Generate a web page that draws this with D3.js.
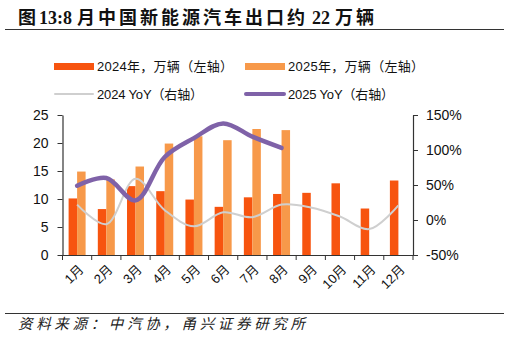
<!DOCTYPE html>
<html>
<head>
<meta charset="utf-8">
<script src="https://cdn.jsdelivr.net/npm/d3@7"></script>
<style>
  html, body { margin: 0; padding: 0; background: #fff; }
  svg { display: block; }
  text { font-family: "Liberation Sans", Arial, "Noto Sans CJK SC", sans-serif; }
</style>
</head>
<body>
<svg id="chart" width="510" height="341"></svg>
<script>
// Monthly NEV exports (10k units) and year-on-year growth (%)
const months = ["1月","2月","3月","4月","5月","6月","7月","8月","9月","10月","11月","12月"];
const units2024 = [10.1, 8.2, 12.3, 11.4, 9.9, 8.6, 10.3, 10.9, 11.1, 12.8, 8.3, 13.3];
const units2025 = [14.9, 13.5, 15.8, 19.9, 21.2, 20.5, 22.5, 22.3];
const yoy2024 = [22, -6, 59, 14, -9, 11, 4, 22, 18, 5, -13, 21];
const yoy2025 = [49, 60, 28, 90, 117, 138, 119, 103];
const leftTicks = [0, 5, 10, 15, 20, 25];
const rightTicks = [-50, 0, 50, 100, 150];

const c2024 = "#f7540f";
const c2025 = "#f7994a";
const cYoy24 = "#cfcfcf";
const cYoy25 = "#7f62a8";

const svg = d3.select("#chart");
const margin = { left: 62.5, right: 97, top: 115, bottom: 86 };
const W = 510, H = 341;
const plotL = margin.left, plotR = W - margin.right, plotT = margin.top, plotB = H - margin.bottom;

const x = d3.scaleBand().domain(months).range([plotL, plotR]).paddingInner(0).paddingOuter(0);
const yL = d3.scaleLinear().domain([0, 25]).range([plotB, plotT]);
const yR = d3.scaleLinear().domain([-50, 150]).range([plotB, plotT]);
const barW = 8.5;

// Title: CJK runs are letter-spaced, numerals set tight
const title = svg.append("text")
  .attr("x", 18).attr("y", 24)
  .style("font-family", "\"Liberation Serif\", \"Noto Sans CJK SC\", serif")
  .style("font-weight", "bold").style("font-size", "18px").attr("fill", "#111");
[
  ["图", 3, 0], ["13:8", 0, 0], ["月中国新能源汽车出口约", 3, 5], ["22", 0, 4], ["万辆", 3, 5]
].forEach(([t, ls, dx]) => title.append("tspan")
  .attr("dx", dx).style("letter-spacing", ls + "px").text(t));

svg.append("line").attr("x1", 5).attr("x2", 504).attr("y1", 29.5).attr("y2", 29.5)
  .attr("stroke", "#333").attr("stroke-width", 1);
svg.append("line").attr("x1", 5).attr("x2", 504).attr("y1", 313.5).attr("y2", 313.5)
  .attr("stroke", "#333").attr("stroke-width", 1);
svg.append("text")
  .attr("x", 18).attr("y", 329)
  .attr("textLength", 287).attr("lengthAdjust", "spacing")
  .style("font-family", "\"Noto Sans CJK SC\", sans-serif")
  .style("font-style", "italic").style("font-size", "14.5px").attr("fill", "#222")
  .text("资料来源：中汽协，甬兴证券研究所");

// Bars
svg.append("g").selectAll("rect").data(units2024).join("rect")
  .attr("x", (d, i) => x(months[i]) + x.bandwidth() / 2 - barW)
  .attr("width", barW)
  .attr("y", d => yL(d)).attr("height", d => yL(0) - yL(d))
  .attr("fill", c2024);
svg.append("g").selectAll("rect").data(units2025).join("rect")
  .attr("x", (d, i) => x(months[i]) + x.bandwidth() / 2)
  .attr("width", barW)
  .attr("y", d => yL(d)).attr("height", d => yL(0) - yL(d))
  .attr("fill", c2025);

// YoY lines
const line = d3.line()
  .x((d, i) => x(months[i]) + x.bandwidth() / 2)
  .y(d => yR(d))
  .curve(d3.curveCatmullRom.alpha(0.5));
svg.append("path").datum(yoy2024).attr("d", line)
  .attr("fill", "none").attr("stroke", cYoy24).attr("stroke-width", 2);
svg.append("path").datum(yoy2025).attr("d", line)
  .attr("fill", "none").attr("stroke", cYoy25).attr("stroke-width", 4.5).attr("stroke-linecap", "round");

// Axes
const axisColor = "#333";
const gL = svg.append("g").attr("transform", `translate(${plotL},0)`)
  .call(d3.axisLeft(yL).tickValues(leftTicks).tickSize(5).tickSizeOuter(0).tickPadding(9));
const gR = svg.append("g").attr("transform", `translate(${plotR},0)`)
  .call(d3.axisRight(yR).tickValues(rightTicks).tickSize(5).tickSizeOuter(0).tickPadding(8)
    .tickFormat(d => d + "%"));
const gX = svg.append("g").attr("transform", `translate(0,${plotB})`)
  .call(d3.axisBottom(x).tickSize(0).tickSizeOuter(0).tickFormat(""));
// Tick marks on band boundaries
gX.selectAll("line.sep").data(d3.range(13)).join("line").attr("class", "sep")
  .attr("x1", i => plotL + i * x.step()).attr("x2", i => plotL + i * x.step())
  .attr("y1", 0).attr("y2", 5).attr("stroke", axisColor);
gX.selectAll("text.lbl").data(months).join("text").attr("class", "lbl")
  .attr("transform", d => `translate(${x(d) + x.bandwidth() / 2 + 4},${12}) rotate(-45)`)
  .attr("text-anchor", "end").attr("dy", "0.35em")
  .style("font-size", "13px").attr("fill", "#111").text(d => d);

[gL, gR, gX].forEach(g => {
  g.selectAll(".domain").attr("stroke", axisColor).attr("stroke-width", 1.2);
  g.selectAll(".tick line").attr("stroke", axisColor);
});
[gL, gR].forEach(g => g.selectAll(".tick text").style("font-size", "14px").attr("fill", "#111"));

// Legend
const legend = svg.append("g").style("font-size", "13px");
const items = [
  { x: 54, y: 66.5, type: "rect", color: c2024, len: 136, label: "2024年，万辆（左轴）" },
  { x: 245, y: 66.5, type: "rect", color: c2025, len: 136, label: "2025年，万辆（左轴）" },
  { x: 54, y: 94, type: "line", color: cYoy24, w: 2, len: 106, label: "2024 YoY（右轴）" },
  { x: 245, y: 94, type: "line", color: cYoy25, w: 4, len: 106, label: "2025 YoY（右轴）" }
];
items.forEach(it => {
  if (it.type === "rect") {
    legend.append("rect").attr("x", it.x).attr("y", it.y - 3.5).attr("width", 40).attr("height", 7)
      .attr("fill", it.color);
  } else {
    legend.append("line").attr("x1", it.x + 1).attr("x2", it.x + 39).attr("y1", it.y).attr("y2", it.y)
      .attr("stroke", it.color).attr("stroke-width", it.w).attr("stroke-linecap", "round");
  }
  legend.append("text").attr("x", it.x + 43).attr("y", it.y).attr("dy", "0.36em")
    .attr("textLength", it.len).attr("lengthAdjust", "spacing")
    .attr("fill", "#111").text(it.label);
});
</script>
</body>
</html>
